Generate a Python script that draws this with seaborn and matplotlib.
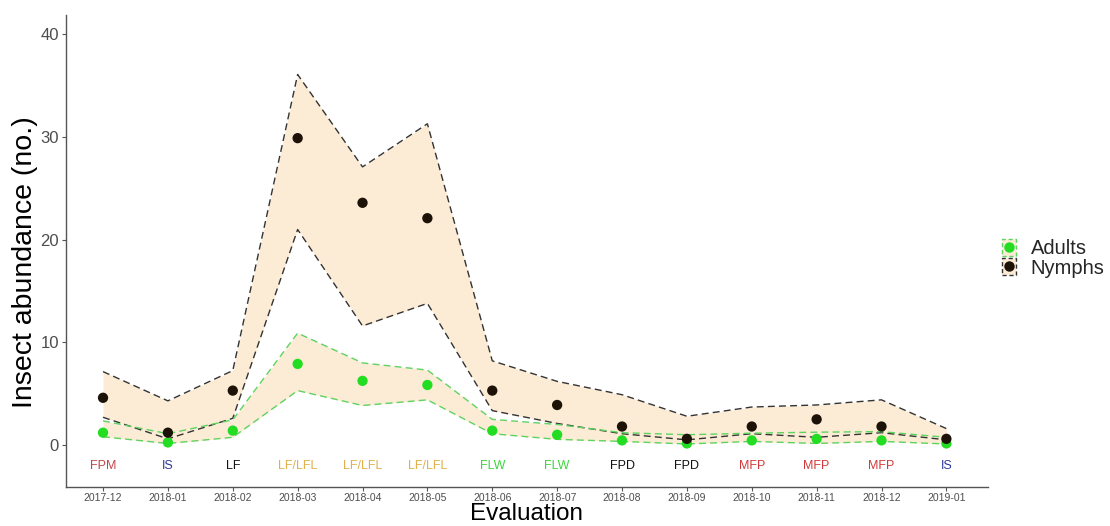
import matplotlib
matplotlib.use("Agg")
import matplotlib.pyplot as plt
import seaborn as sns
import pandas as pd
from matplotlib.patches import Patch
from matplotlib.lines import Line2D
from matplotlib.legend_handler import HandlerTuple

months = ["2017-12", "2018-01", "2018-02", "2018-03", "2018-04", "2018-05", "2018-06",
          "2018-07", "2018-08", "2018-09", "2018-10", "2018-11", "2018-12", "2019-01"]
stages = ["FPM", "IS", "LF", "LF/LFL", "LF/LFL", "LF/LFL", "FLW",
          "FLW", "FPD", "FPD", "MFP", "MFP", "MFP", "IS"]
stage_colors = {"FPM": "#c0474a", "IS": "#2e3a9a", "LF": "#111111", "LF/LFL": "#e0b04a",
                "FLW": "#3ed43e", "FPD": "#111111", "MFP": "#d03a3a"}

nymph_mean = [4.6, 1.2, 5.3, 29.9, 23.6, 22.1, 5.3, 3.9, 1.8, 0.6, 1.8, 2.5, 1.8, 0.6]
nymph_upper = [7.15, 4.3, 7.25, 36.1, 27.1, 31.3, 8.2, 6.2, 4.9, 2.8, 3.7, 3.9, 4.4, 1.6]
nymph_lower = [2.7, 0.6, 2.6, 21.0, 11.6, 13.8, 3.35, 2.1, 1.1, 0.5, 1.1, 0.75, 1.2, 0.5]

adult_mean = [1.2, 0.25, 1.4, 7.9, 6.25, 5.85, 1.4, 1.0, 0.45, 0.15, 0.45, 0.6, 0.45, 0.15]
adult_upper = [2.35, 1.1, 2.45, 10.9, 8.0, 7.3, 2.5, 2.0, 1.2, 1.0, 1.15, 1.25, 1.3, 0.75]
adult_lower = [0.8, 0.15, 0.75, 5.3, 3.85, 4.4, 1.1, 0.55, 0.35, 0.1, 0.35, 0.15, 0.35, 0.1]

fill_col = "#fcecd5"
adult_line = "#5fd35f"
nymph_line = "#333333"
adult_pt = "#22dd22"
nymph_pt = "#1c1208"

df = pd.DataFrame({
    "x": list(range(len(months))) * 2,
    "month": months * 2,
    "mean": adult_mean + nymph_mean,
    "upper": adult_upper + nymph_upper,
    "lower": adult_lower + nymph_lower,
    "group": ["Adults"] * len(months) + ["Nymphs"] * len(months),
})

sns.set_theme(style="white")
plt.rcParams['font.family'] = ['Liberation Sans', 'DejaVu Sans']

fig = plt.figure(figsize=(11.1, 5.26), dpi=100)
ax = fig.add_axes([0.0595, 0.074, 0.8305, 0.8975])

x = list(range(len(months)))
# ribbons
ax.fill_between(x, nymph_lower, nymph_upper, color=fill_col, lw=0, zorder=1)
ax.fill_between(x, adult_lower, adult_upper, color=fill_col, lw=0, zorder=1)

for col in ["upper", "lower"]:
    sub = df[df.group == "Nymphs"]
    sns.lineplot(data=sub, x="x", y=col, ax=ax, color=nymph_line, lw=1.0, linestyle=(0, (5, 3)),
                 legend=False, zorder=2)
for col in ["upper", "lower"]:
    sub = df[df.group == "Adults"]
    sns.lineplot(data=sub, x="x", y=col, ax=ax, color=adult_line, lw=1.0, linestyle=(0, (5, 3)),
                 legend=False, zorder=2)

sns.scatterplot(data=df, x="x", y="mean", hue="group",
                palette={"Adults": adult_pt, "Nymphs": nymph_pt},
                s=55, edgecolor="none", ax=ax, legend=False, zorder=3)

for i, st in enumerate(stages):
    ax.text(i, -2.0, st, color=stage_colors[st], ha="center", va="center", fontsize=9)

ax.set_xlim(-0.57, 13.64)
ax.set_ylim(-4.1, 41.9)
ax.set_xticks(x)
ax.set_xticklabels(months, fontsize=7.5, color="#4d4d4d")
ax.set_yticks([0, 10, 20, 30, 40])
ax.set_yticklabels(["0", "10", "20", "30", "40"], fontsize=12, color="#4d4d4d")
ax.tick_params(axis="both", which="both", length=3, width=0.8, color="#555555",
               direction="out", bottom=True, left=True, pad=2)
ax.tick_params(axis="x", pad=1)
ax.set_xlabel("")
fig.text((0.0595 + 0.0595 + 0.8305) / 2, 1 - 520.5 / 526, "Evaluation", fontsize=17.5,
         ha="center", va="baseline", color="black")
ax.set_ylabel("Insect abundance (no.)", fontsize=20.5, color="black")
ax.yaxis.set_label_coords(-0.030, 0.477)
for side in ["top", "right"]:
    ax.spines[side].set_visible(False)
for side in ["left", "bottom"]:
    ax.spines[side].set_color("#555555")
    ax.spines[side].set_linewidth(1.0)

h_adult = (Patch(facecolor=fill_col, edgecolor=adult_line, linestyle=(0, (3, 2)), lw=1.0),
           Line2D([], [], marker="o", color="none", markerfacecolor=adult_pt,
                  markeredgecolor="none", markersize=7.5))
h_nymph = (Patch(facecolor=fill_col, edgecolor=nymph_line, linestyle=(0, (3, 2)), lw=1.0),
           Line2D([], [], marker="o", color="none", markerfacecolor=nymph_pt,
                  markeredgecolor="none", markersize=7.5))
leg = fig.legend([h_adult, h_nymph], ["Adults", "Nymphs"],
                 handler_map={tuple: HandlerTuple(ndivide=1, pad=0)},
                 loc="center left", bbox_to_anchor=(0.903, 0.509), frameon=False,
                 fontsize=14.5, handlelength=0.7, handleheight=0.9, handletextpad=0.7,
                 labelspacing=0.0, borderaxespad=0, borderpad=0)

fig.savefig("out.png", dpi=100)
